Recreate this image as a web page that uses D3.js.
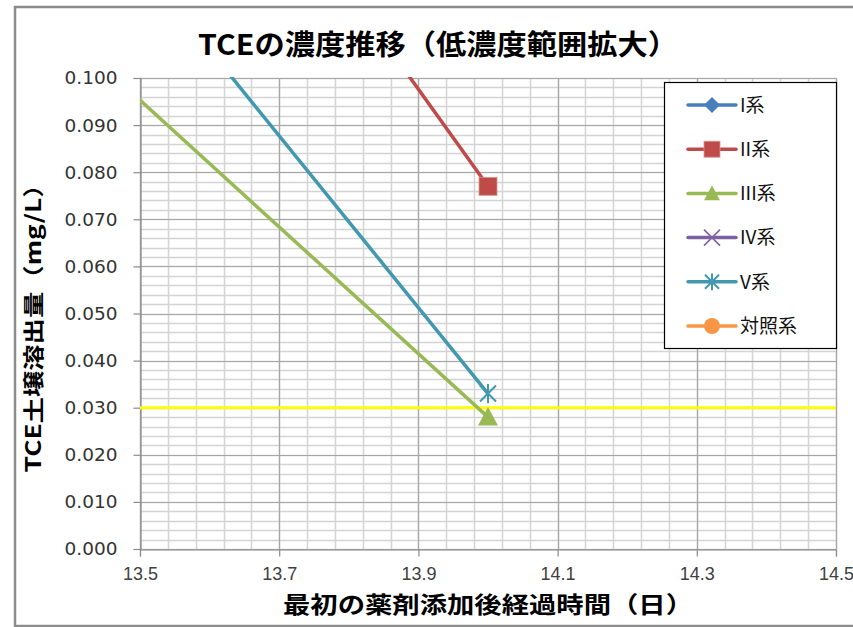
<!DOCTYPE html>
<html>
<head>
<meta charset="utf-8">
<script src="https://cdn.jsdelivr.net/npm/d3@7"></script>
<style>
  html, body { margin: 0; padding: 0; background: #fff; }
  svg { display: block; }
</style>
</head>
<body>
<div id="chart"></div>
<script>
// Elapsed days since the first reagent addition
const days = [7, 14];

// TCE leaching concentration (mg/L) per system; null = no point in this range
const seriesNames = ["I系", "II系", "III系", "IV系", "V系", "対照系"];
const valuesI = [null, null];
const valuesII = [1.52, 0.077];
const valuesIII = [0.97, 0.028];
const valuesIV = [null, null];
const valuesV = [1.31, 0.033];
const valuesControl = [null, null];

const seriesColors = ["#4a7ebb", "#be4b48", "#98b954", "#7d60a0", "#4198af", "#f79646"];
const seriesMarkers = ["diamond", "square", "triangle", "x", "star", "circle"];

// Environmental standard line (mg/L)
const standardValue = 0.030;

// Axis ticks
const xTicks = [13.5, 13.7, 13.9, 14.1, 14.3, 14.5];
const yTicks = [0, 0.01, 0.02, 0.03, 0.04, 0.05, 0.06, 0.07, 0.08, 0.09, 0.1];

const titleText = "TCEの濃度推移（低濃度範囲拡大）";
const xTitleText = "最初の薬剤添加後経過時間（日）";
const yTitleText = "TCE土壌溶出量（mg/L）";

const W = 853, H = 627;
const plot = { left: 140, right: 836, top: 78, bottom: 549 };

const svg = d3.select("#chart").append("svg")
  .attr("width", W).attr("height", H);

// Outer chart frame
svg.append("rect")
  .attr("x", 15).attr("y", 7).attr("width", W + 10).attr("height", 619)
  .attr("fill", "#fff").attr("stroke", "#8c8c8c").attr("stroke-width", 2.5);

const x = d3.scaleLinear().domain([13.5, 14.5]).range([plot.left, plot.right]);
const y = d3.scaleLinear().domain([0, 0.1]).range([plot.bottom, plot.top]);

// Gridlines: minor then major
const g = svg.append("g");
const yMinor = d3.range(0, 0.1001, 0.002);
const xMinor = d3.range(13.5, 14.5001, 0.04);
g.selectAll(".hmin").data(yMinor).join("line")
  .attr("x1", plot.left).attr("x2", plot.right)
  .attr("y1", d => Math.round(y(d)) + 0.5).attr("y2", d => Math.round(y(d)) + 0.5)
  .attr("stroke", "#d4d4d4").attr("stroke-width", 1.5);
g.selectAll(".vmin").data(xMinor).join("line")
  .attr("y1", plot.top).attr("y2", plot.bottom)
  .attr("x1", d => Math.round(x(d)) + 0.5).attr("x2", d => Math.round(x(d)) + 0.5)
  .attr("stroke", "#d4d4d4").attr("stroke-width", 1.5);
g.selectAll(".hmaj").data(yTicks).join("line")
  .attr("x1", plot.left).attr("x2", plot.right)
  .attr("y1", d => Math.round(y(d)) + 0.5).attr("y2", d => Math.round(y(d)) + 0.5)
  .attr("stroke", "#a6a6a6").attr("stroke-width", 1.2);
g.selectAll(".vmaj").data(xTicks).join("line")
  .attr("y1", plot.top).attr("y2", plot.bottom)
  .attr("x1", d => Math.round(x(d)) + 0.5).attr("x2", d => Math.round(x(d)) + 0.5)
  .attr("stroke", "#a6a6a6").attr("stroke-width", 1.2);

// Axes
const yAxis = d3.axisLeft(y).tickValues(yTicks).tickFormat(d3.format(".3f"))
  .tickSize(7).tickPadding(16);
const yg = svg.append("g").attr("transform", `translate(${plot.left + 0.5},0)`).call(yAxis);
const xAxis = d3.axisBottom(x).tickValues(xTicks).tickFormat(d3.format(".1f"))
  .tickSize(7).tickPadding(11);
const xg = svg.append("g").attr("transform", `translate(0,${plot.bottom + 0.5})`).call(xAxis);
[yg, xg].forEach(a => {
  a.select(".domain").attr("stroke", "#8c8c8c").attr("stroke-width", 1.2);
  a.selectAll(".tick line").attr("stroke", "#8c8c8c").attr("stroke-width", 1.2);
});
yg.selectAll(".tick text")
  .attr("font-family", "'DejaVu Sans', sans-serif")
  .attr("font-size", 18.5).attr("fill", "#333");
xg.selectAll(".tick text")
  .attr("font-family", "'Liberation Sans', Arial, sans-serif")
  .attr("font-size", 18).attr("fill", "#404040");

// Clip region for the plotted data
svg.append("defs").append("clipPath").attr("id", "plotClip")
  .append("rect")
  .attr("x", plot.left).attr("y", plot.top - 1)
  .attr("width", plot.right - plot.left + 1).attr("height", plot.bottom - plot.top + 2);

const series = [valuesI, valuesII, valuesIII, valuesIV, valuesV, valuesControl];
const data = series.map((vals, i) => ({
  name: seriesNames[i],
  color: seriesColors[i],
  marker: seriesMarkers[i],
  points: days.map((d, j) => ({ x: d, y: vals[j] })).filter(p => p.y !== null)
}));

const dataG = svg.append("g").attr("clip-path", "url(#plotClip)");

// Standard value line
dataG.append("line")
  .attr("x1", plot.left).attr("x2", plot.right)
  .attr("y1", y(standardValue)).attr("y2", y(standardValue))
  .attr("stroke", "#ffff00").attr("stroke-width", 3);

const line = d3.line().x(p => x(p.x)).y(p => y(p.y));

function drawMarker(sel, type, color, cx, cy, s) {
  if (type === "diamond") {
    sel.append("path").attr("d", `M${cx},${cy - s}L${cx + s},${cy}L${cx},${cy + s}L${cx - s},${cy}Z`)
      .attr("fill", color);
  } else if (type === "square") {
    sel.append("rect").attr("x", cx - s).attr("y", cy - s).attr("width", 2 * s).attr("height", 2 * s)
      .attr("fill", color).attr("stroke", "#d99694").attr("stroke-width", 0.8);
  } else if (type === "triangle") {
    sel.append("path").attr("d", `M${cx},${cy - s}L${cx + s},${cy + s * 0.85}L${cx - s},${cy + s * 0.85}Z`)
      .attr("fill", color);
  } else if (type === "x") {
    sel.append("path").attr("d", `M${cx - s},${cy - s}L${cx + s},${cy + s}M${cx - s},${cy + s}L${cx + s},${cy - s}`)
      .attr("stroke", color).attr("stroke-width", 1.5).attr("fill", "none");
  } else if (type === "star") {
    sel.append("path").attr("d",
      `M${cx - s},${cy - s}L${cx + s},${cy + s}M${cx - s},${cy + s}L${cx + s},${cy - s}M${cx},${cy - s * 1.2}L${cx},${cy + s * 1.2}`)
      .attr("stroke", color).attr("stroke-width", 2).attr("fill", "none");
  } else if (type === "circle") {
    sel.append("circle").attr("cx", cx).attr("cy", cy).attr("r", s).attr("fill", color);
  }
}

data.forEach(s => {
  if (s.points.length > 1) {
    dataG.append("path").datum(s.points)
      .attr("d", line).attr("fill", "none")
      .attr("stroke", s.color).attr("stroke-width", 3.5).attr("stroke-linejoin", "round");
  }
  s.points.forEach(p => {
    const size = s.marker === "star" ? 8 : (s.marker === "triangle" ? 10 : 9);
    drawMarker(dataG, s.marker, s.color, x(p.x), y(p.y), size);
  });
});

// Legend
const lg = svg.append("g");
lg.append("rect").attr("x", 664.5).attr("y", 82.5).attr("width", 172).attr("height", 266)
  .attr("fill", "#fff").attr("stroke", "#000").attr("stroke-width", 1.2);
data.forEach((s, i) => {
  const cy = 105 + i * 44.2;
  lg.append("line").attr("x1", 688).attr("x2", 736).attr("y1", cy).attr("y2", cy)
    .attr("stroke", s.color).attr("stroke-width", 3.5).attr("stroke-linecap", "round");
  const msize = s.marker === "square" ? 8 : (s.marker === "star" ? 7 : 8);
  drawMarker(lg, s.marker, s.color, 712, cy, msize);
  lg.append("text").attr("x", 740).attr("y", cy).attr("dy", "0.36em")
    .attr("font-family", "'Noto Sans CJK JP', sans-serif").attr("font-size", 19)
    .attr("fill", "#111").text(s.name);
});

// Titles
svg.append("text").attr("x", 438).attr("y", 45).attr("dy", "0.36em")
  .attr("text-anchor", "middle")
  .attr("font-family", "'Noto Sans CJK JP', sans-serif").attr("font-weight", "bold")
  .attr("font-size", 28).attr("textLength", 480).attr("lengthAdjust", "spacingAndGlyphs")
  .attr("fill", "#000").text(titleText);

svg.append("text").attr("x", 488).attr("y", 605).attr("dy", "0.36em")
  .attr("text-anchor", "middle")
  .attr("font-family", "'Noto Sans CJK JP', sans-serif").attr("font-weight", "bold")
  .attr("font-size", 23).attr("textLength", 410).attr("lengthAdjust", "spacingAndGlyphs")
  .attr("fill", "#000").text(xTitleText);

svg.append("text")
  .attr("transform", "translate(33,322) rotate(-90)")
  .attr("dy", "0.36em").attr("text-anchor", "middle")
  .attr("font-family", "'Noto Sans CJK JP', sans-serif").attr("font-weight", "bold")
  .attr("font-size", 21).attr("textLength", 301).attr("lengthAdjust", "spacingAndGlyphs")
  .attr("fill", "#000").text(yTitleText);
</script>
</body>
</html>
